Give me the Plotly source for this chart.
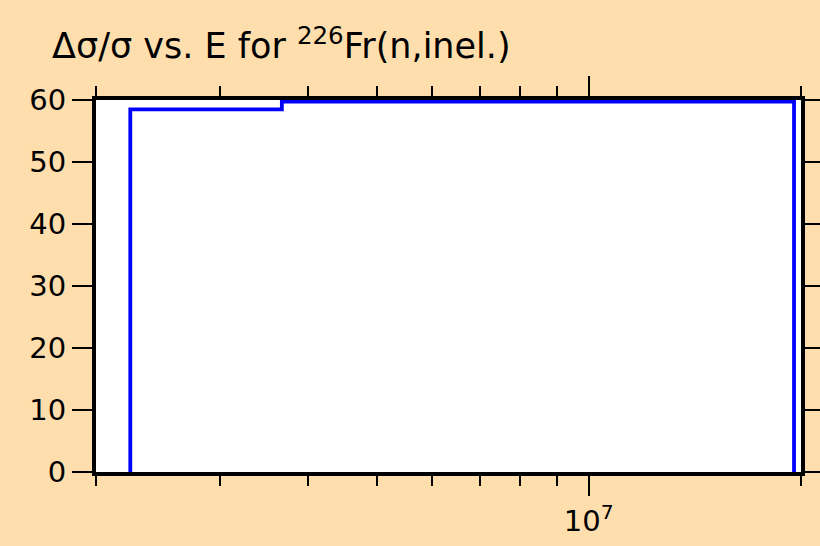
import plotly.graph_objects as go

# step-like relative uncertainty vs energy
energia = [2.237e6, 2.237e6, 3.67e6, 1.955e7, 1.955e7]
incertidumbre = [0.0, 58.5, 59.76, 59.76, 0.0]

ticks_y = [0, 10, 20, 30, 40, 50, 60]
ticks_menores = [2e6, 3e6, 4e6, 5e6, 6e6, 7e6, 8e6, 9e6, 2e7]

fig = go.Figure()

fig.add_trace(
    go.Scatter(
        x=energia,
        y=incertidumbre,
        mode="lines",
        line=dict(color="#0000FF", width=3.8, shape="hv"),
        showlegend=False
    )
)

fig.update_layout(
    width=820,
    height=546,
    paper_bgcolor="#FFDEAD",
    plot_bgcolor="white",
    margin=dict(l=96, r=19, t=100, b=74),
    font=dict(family="DejaVu Sans, Liberation Sans, sans-serif", size=29, color="black"),
    title=dict(
        text="Δσ/σ vs. E for <sup>226</sup>Fr(n,inel.)",
        x=52 / 820,
        xanchor="left",
        xref="container",
        y=1 - 46 / 546,
        yanchor="middle",
        yref="container",
        font=dict(size=35)
    )
)

fig.update_xaxes(
    type="log",
    range=[6.30103, 7.30103],
    tickvals=[1e7],
    ticktext=["10<sup>7</sup>"],
    ticks="outside",
    ticklen=20,
    tickwidth=2,
    tickcolor="black",
    showline=True,
    linewidth=4,
    linecolor="black",
    mirror="allticks",
    showgrid=False,
    zeroline=False,
    automargin=False,
    minor=dict(
        tickvals=ticks_menores,
        ticks="outside",
        ticklen=10,
        tickwidth=2,
        tickcolor="black",
        showgrid=False
    )
)

fig.update_yaxes(
    range=[0, 60],
    tickvals=ticks_y,
    ticks="outside",
    ticklen=20,
    tickwidth=2,
    tickcolor="black",
    showline=True,
    linewidth=4,
    linecolor="black",
    mirror="allticks",
    showgrid=False,
    zeroline=False,
    automargin=False
)

# quitar margen y barras de desplazamiento del body
script_body = (
    "document.body.style.margin='0';"
    "document.body.style.overflow='hidden';"
    "document.documentElement.style.overflow='hidden';"
)

fig.write_html(
    "out.html",
    config={"displayModeBar": False},
    post_script=script_body
)
